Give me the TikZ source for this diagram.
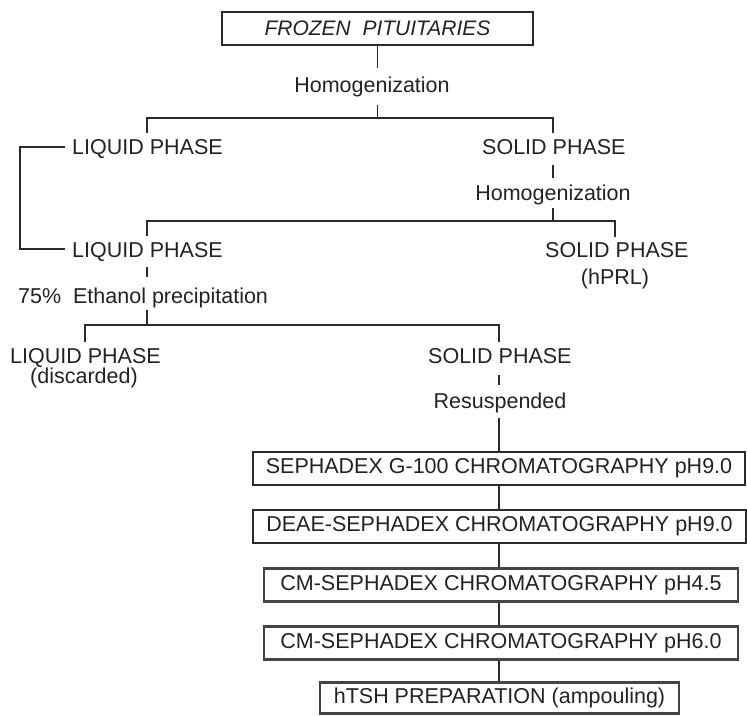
\documentclass[tikz,border=0pt]{standalone}
\usepackage{fontspec}
\setmainfont{Liberation Sans}
\definecolor{ink}{HTML}{222222}
\definecolor{lineink}{HTML}{2a2a2a}
\definecolor{boxgray}{HTML}{444444}
\begin{document}
\begin{tikzpicture}[x=1pt,y=-1pt,
  lbl/.style={inner sep=0pt, text=ink, font=\fontsize{21.5}{25}\selectfont},
  pbox/.style={draw=lineink, line width=2.5pt, inner sep=0pt, minimum height=33pt, text=ink, font=\fontsize{21.5}{25}\selectfont},
  gbox/.style={pbox, draw=boxgray, line width=2.1pt},
  conn/.style={draw=lineink, line width=1.2pt}]
\useasboundingbox (0,0) rectangle (747,715);

% nodes
\node[pbox, minimum width=311pt, font=\fontsize{21}{25}\selectfont\itshape] (top) at (377.5,28.5) {FROZEN\ \ PITUITARIES};
\node[lbl, anchor=base] (hom1) at (372,92) {Homogenization};
\node[lbl, anchor=base west] (liq1) at (72,154) {LIQUID PHASE};
\node[lbl, anchor=base west] (sol1) at (482,154) {SOLID PHASE};
\node[lbl, anchor=base] (hom2) at (553,200) {Homogenization};
\node[lbl, anchor=base west] (liq2) at (72,257) {LIQUID PHASE};
\node[lbl, anchor=base west] (sol2) at (545,257) {SOLID PHASE};
\node[lbl, anchor=base] (hprl) at (615,284) {(hPRL)};
\node[lbl, anchor=base west] (eth) at (18,303) {75\%\ \ Ethanol precipitation};
\node[lbl, anchor=base west] (liq3) at (10,363) {LIQUID PHASE};
\node[lbl, anchor=base] (disc) at (84,383) {(discarded)};
\node[lbl, anchor=base west] (sol3) at (428,363) {SOLID PHASE};
\node[lbl, anchor=base] (resus) at (500,408) {Resuspended};

\node[pbox, minimum width=492pt] (b1) at (499,468.5) {SEPHADEX G-100 CHROMATOGRAPHY pH9.0};
\node[pbox, minimum width=493pt] (b2) at (499.5,526.5) {DEAE-SEPHADEX CHROMATOGRAPHY pH9.0};
\node[gbox, minimum width=474pt] (b3) at (501,585) {CM-SEPHADEX CHROMATOGRAPHY pH4.5};
\node[gbox, minimum width=474pt] (b4) at (501,643) {CM-SEPHADEX CHROMATOGRAPHY pH6.0};
\node[gbox, minimum width=359pt, minimum height=31pt] (b5) at (499.5,698) {hTSH PREPARATION (ampouling)};

% junction coordinates
\coordinate (a1) at (377.5,68);
\coordinate (a2) at (377.5,105);
\coordinate (j1) at (377.5,118);
\coordinate (j1l) at (147,118);
\coordinate (j1r) at (553,118);
\coordinate (l1t) at (147,133);
\coordinate (s1t) at (553,133);
\coordinate (s1b) at (553,165);
\coordinate (h2t) at (553,178);
\coordinate (h2b) at (553,208);
\coordinate (j2) at (553,221);
\coordinate (j2l) at (147,221);
\coordinate (j2r) at (615,221);
\coordinate (l2t) at (147,236);
\coordinate (s2t) at (615,237);
\coordinate (k1) at (65,147);
\coordinate (k2) at (20,147);
\coordinate (k3) at (20,249);
\coordinate (k4) at (65,249);
\coordinate (l2b) at (147,267);
\coordinate (e1) at (147,277);
\coordinate (e2) at (147,310);
\coordinate (j3) at (147,325);
\coordinate (j3l) at (85,325);
\coordinate (j3r) at (499,325);
\coordinate (l3t) at (85,342);
\coordinate (s3t) at (499,342);
\coordinate (s3b) at (499,375);
\coordinate (r1) at (499,385);
\coordinate (r2) at (499,418);

% connectors
\draw[conn] (top.south) -- (a1);
\draw[conn] (a2) -- (j1);
\draw[conn] (l1t) -- (j1l) -- (j1r) -- (s1t);
\draw[conn] (s1b) -- (h2t);
\draw[conn] (h2b) -- (j2);
\draw[conn] (l2t) -- (j2l) -- (j2r) -- (s2t);
\draw[conn] (k1) -- (k2) -- (k3) -- (k4);
\draw[conn] (l2b) -- (e1);
\draw[conn] (e2) -- (j3);
\draw[conn] (l3t) -- (j3l) -- (j3r) -- (s3t);
\draw[conn] (s3b) -- (r1);
\draw[conn] (r2) -- (r2 |- b1.north);
\draw[conn] (b1.south -| r2) -- (b2.north -| r2);
\draw[conn] (b2.south -| r2) -- (b3.north -| r2);
\draw[conn] (b3.south -| r2) -- (b4.north -| r2);
\draw[conn] (b4.south -| r2) -- (b5.north -| r2);
\end{tikzpicture}
\end{document}
